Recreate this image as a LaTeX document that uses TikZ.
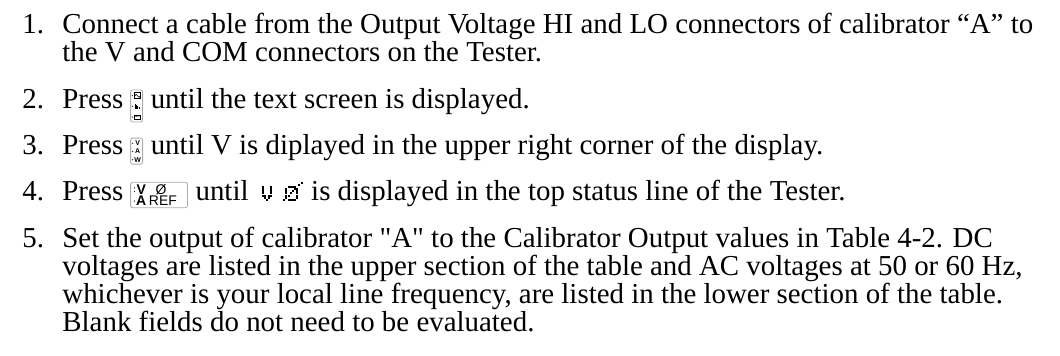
\documentclass[tikz,border=0pt]{standalone}
\usepackage{fontspec}
\setmainfont{Liberation Serif}[Ligatures=TeXOff]
\newfontfamily\keyfont{Liberation Sans}
\usetikzlibrary{positioning}

\begin{document}
\begin{tikzpicture}[x=1pt,y=1pt,
  txt/.style={anchor=base west,inner sep=0pt,font=\fontsize{12}{11.6}\selectfont},
  key/.style={draw=gray!65,line width=0.35pt,rounded corners=0.9pt,
    inner sep=0pt,anchor=south west},
  kdot/.style={fill=black!80,circle,inner sep=0pt,minimum size=0.6pt},
  klbl/.style={inner sep=0pt,font=\keyfont\bfseries\fontsize{2.9}{2.9}\selectfont},
  kbig/.style={inner sep=0pt,font=\keyfont\fontsize{5.8}{5.8}\selectfont},
  kbold/.style={kbig,font=\keyfont\bfseries\fontsize{5.8}{5.8}\selectfont},
  pix/.style={fill=black}]

  \useasboundingbox (0,0) rectangle (440,-147.7);

  % step 1 (a multi-line node sits on its last baseline)
  \node[txt] (n1) at (9.1,-14.0) {1.};
  \node[txt,align=left] (s1) at (25.7,-25.6)
    {Connect a cable from the Output Voltage HI and LO connectors of calibrator “A” to\\
     the V and COM connectors on the Tester.};

  % step 2
  \node[txt] (n2) at (9.1,-45.0) {2.};
  \node[txt] (s2a) at (25.7,-45.0) {Press};
  \node[key,minimum width=5pt,minimum height=13.3pt] (k2)
    at ([xshift=2.6pt,yshift=-5.8pt]s2a.base east) {};
  \begin{scope}[shift={(k2.south west)}]
    \foreach \y in {11.1,6.65,2.2}
      \node[kdot] at (0.9,\y) {};
    \draw[line width=0.25pt] (1.6,9.9) rectangle (4.3,12.3);
    \draw[line width=0.25pt] (1.9,11.0) sin (2.5,11.6) cos (3.1,11.0) sin (3.7,10.4) cos (4.1,10.9);
    \foreach \x/\h in {1.8/2.2,2.4/1.9,3.0/1.4,3.6/0.9}
      \fill (\x,5.5) rectangle +(0.35,\h);
    \draw[line width=0.25pt] (1.6,1.3) rectangle (4.3,3.1);
    \node[inner sep=0pt,font=\keyfont\bfseries\fontsize{0.9}{0.9}\selectfont] at (2.95,2.2) {TEXT};
  \end{scope}
  \node[txt,xshift=3pt] (s2b) at (k2.east |- s2a.base) {until the text screen is displayed.};

  % step 3
  \node[txt] (n3) at (9.1,-64.2) {3.};
  \node[txt] (s3a) at (25.7,-64.2) {Press};
  \node[key,minimum width=5pt,minimum height=10.8pt] (k3)
    at ([xshift=2.6pt,yshift=-4.1pt]s3a.base east) {};
  \begin{scope}[shift={(k3.south west)}]
    \foreach \y/\l in {8.8/V,5.4/A,2.0/W} {
      \node[kdot] at (1.0,\y) {};
      \node[klbl] at (3.1,\y) {\l};
    }
  \end{scope}
  \node[txt,xshift=3pt] (s3b) at (k3.east |- s3a.base)
    {until V is diplayed in the upper right corner of the display.};

  % step 4
  \node[txt] (n4) at (9.1,-83.4) {4.};
  \node[txt] (s4a) at (25.7,-83.4) {Press};
  \node[key,minimum width=23.6pt,minimum height=10.6pt] (k4)
    at ([xshift=2.6pt,yshift=-3.0pt]s4a.base east) {};
  \begin{scope}[shift={(k4.south west)}]
    \node[kdot] at (1.8,8.4) {};
    \node[kdot] at (1.8,6.9) {};
    \node[kdot] at (1.8,2.9) {};
    \node[kbold] at (4.6,7.7) {V};
    \node[kbig] at (12.8,7.8) {Ø};
    \node[kbold] at (4.6,2.9) {A};
    \node[kbig] at (13.6,2.9) {REF};
  \end{scope}
  \node[txt,xshift=3pt] (s4b) at (k4.east |- s4a.base) {until};
  \coordinate (lcd) at ([xshift=5.2pt]s4b.base east);
  % dot matrix V
  \foreach \c/\r in {0/2,0/3,0/4,0/5,0/6,4/2,4/3,4/4,4/5,4/6,1/1,3/1,2/0,1/2,3/2}
    \fill[pix] ([shift={(\c*0.9,\r*0.9)}]lcd) rectangle +(0.8,0.8);
  % dot matrix slashed zero
  \foreach \c/\r in {2/0,3/0,4/0,5/0,1/1,6/1,1/2,6/2,1/3,6/3,1/4,6/4,1/5,6/5,2/6,3/6,4/6,5/6,
                     0/0,2/2,3/3,4/4,5/5,7/7,8/8}
    \fill[pix] ([shift={(9.0+\c*0.9,\r*0.9)}]lcd) rectangle +(0.8,0.8);
  \node[txt] (s4c) at ([xshift=20.4pt]lcd) {is displayed in the top status line of the Tester.};

  % step 5
  \node[txt] (n5) at (9.1,-102.6) {5.};
  \node[txt,align=left] (s5) at (25.7,-137.4)
    {Set the output of calibrator "A" to the Calibrator Output values in Table 4-2. DC\\
     voltages are listed in the upper section of the table and AC voltages at 50 or 60 Hz,\\
     whichever is your local line frequency, are listed in the lower section of the table.\\
     Blank fields do not need to be evaluated.};
\end{tikzpicture}
\end{document}
